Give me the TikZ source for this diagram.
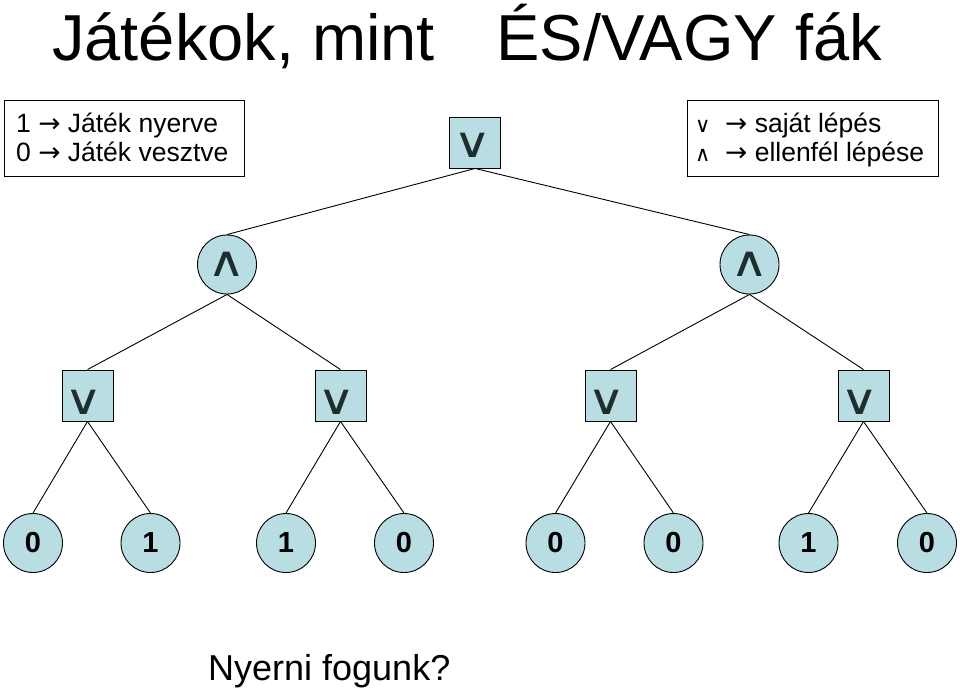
\documentclass[tikz,border=0pt]{standalone}
\usepackage{fontspec}
\setmainfont{Liberation Sans}
\newfontfamily\dejavu{DejaVu Sans}
\definecolor{nodefill}{RGB}{184,221,227}
\definecolor{symcol}{RGB}{30,45,45}
\newcommand{\orsym}{\scalebox{1.75}[1.4]{∨}}
\newcommand{\andsym}{\scalebox{1.75}[1.4]{∧}}
\begin{document}
\begin{tikzpicture}[x=1pt,y=-1pt,
  every node/.style={inner sep=0pt},
  orbox/.style={draw, fill=nodefill, minimum size=51pt, line width=0.9pt},
  andcirc/.style={draw, circle, fill=nodefill, minimum size=59pt, line width=0.9pt},
  leaf/.style={draw, circle, fill=nodefill, minimum size=59pt, line width=0.9pt,
               font=\fontsize{29}{32}\selectfont\bfseries},
  sym/.style={font=\dejavu\fontsize{30}{34}\selectfont, text=symcol},
  legtext/.style={anchor=base west, font=\fontsize{26.5}{30}\selectfont},
  legsym/.style={anchor=base west, font=\dejavu\fontsize{21}{24}\selectfont},
  legend/.style={draw, line width=0.9pt},
  edge/.style={line width=0.9pt}]
\useasboundingbox (0,0) rectangle (960,689);

% title
\node (t1) [anchor=base west, font=\fontsize{65}{70}\selectfont] at (52,60) {Játékok, mint};
\node (t2) [anchor=base east, font=\fontsize{65}{70}\selectfont] at (882,60) {ÉS/VAGY fák};

% legends
\node (lg1) [legend, minimum width=240pt, minimum height=76pt] at (124,138) {};
\node (l11) [legtext] at (16,132) {1 {\dejavu →} Játék nyerve};
\node (l12) [legtext] at (16,161) {0 {\dejavu →} Játék vesztve};

\node (lg2) [legend, minimum width=251pt, minimum height=76pt] at (812.5,138) {};
\node (l21s) [legsym] at (695,132) {∨};
\node (l21) [legtext] at (725,132) {{\dejavu →} saját lépés};
\node (l22s) [legsym] at (695,161) {∧};
\node (l22) [legtext] at (725,161) {{\dejavu →} ellenfél lépése};

% tree
\node (root) [orbox] at (475,142.5) {};
\node (a1) [andcirc] at (227,264.5) {};
\node (a2) [andcirc] at (749.5,264.5) {};
\node (o1) [orbox] at (87.5,395.5) {};
\node (o2) [orbox] at (340.5,395.5) {};
\node (o3) [orbox] at (610.5,395.5) {};
\node (o4) [orbox] at (863.5,395.5) {};

\node (sroot) [sym] at ([xshift=-2.5pt,yshift=-3pt]root.center) {\orsym};
\foreach \n in {o1,o2,o3,o4}
  \node (s\n) [sym] at ([xshift=-3.5pt,yshift=-7pt]\n.center) {\orsym};
\foreach \n in {a1,a2}
  \node (s\n) [sym] at (\n.center) {\andsym};

\node (v1) [leaf] at (33,543) {0};
\node (v2) [leaf] at (150.5,543) {1};
\node (v3) [leaf] at (286,543) {1};
\node (v4) [leaf] at (404,543) {0};
\node (v5) [leaf] at (555.5,543) {0};
\node (v6) [leaf] at (673.5,543) {0};
\node (v7) [leaf] at (808.5,543) {1};
\node (v8) [leaf] at (927,543) {0};

\draw[edge] (root.south) -- (a1.north);
\draw[edge] (root.south) -- (a2.north);
\draw[edge] (a1.south) -- (o1.north);
\draw[edge] (a1.south) -- (o2.north);
\draw[edge] (a2.south) -- (o3.north);
\draw[edge] (a2.south) -- (o4.north);
\draw[edge] (o1.south) -- (v1.north);
\draw[edge] (o1.south) -- (v2.north);
\draw[edge] (o2.south) -- (v3.north);
\draw[edge] (o2.south) -- (v4.north);
\draw[edge] (o3.south) -- (v5.north);
\draw[edge] (o3.south) -- (v6.north);
\draw[edge] (o4.south) -- (v7.north);
\draw[edge] (o4.south) -- (v8.north);

% question
\node (q) [anchor=base west, font=\fontsize{36}{40}\selectfont] at (208,680) {Nyerni fogunk?};
\end{tikzpicture}
\end{document}
